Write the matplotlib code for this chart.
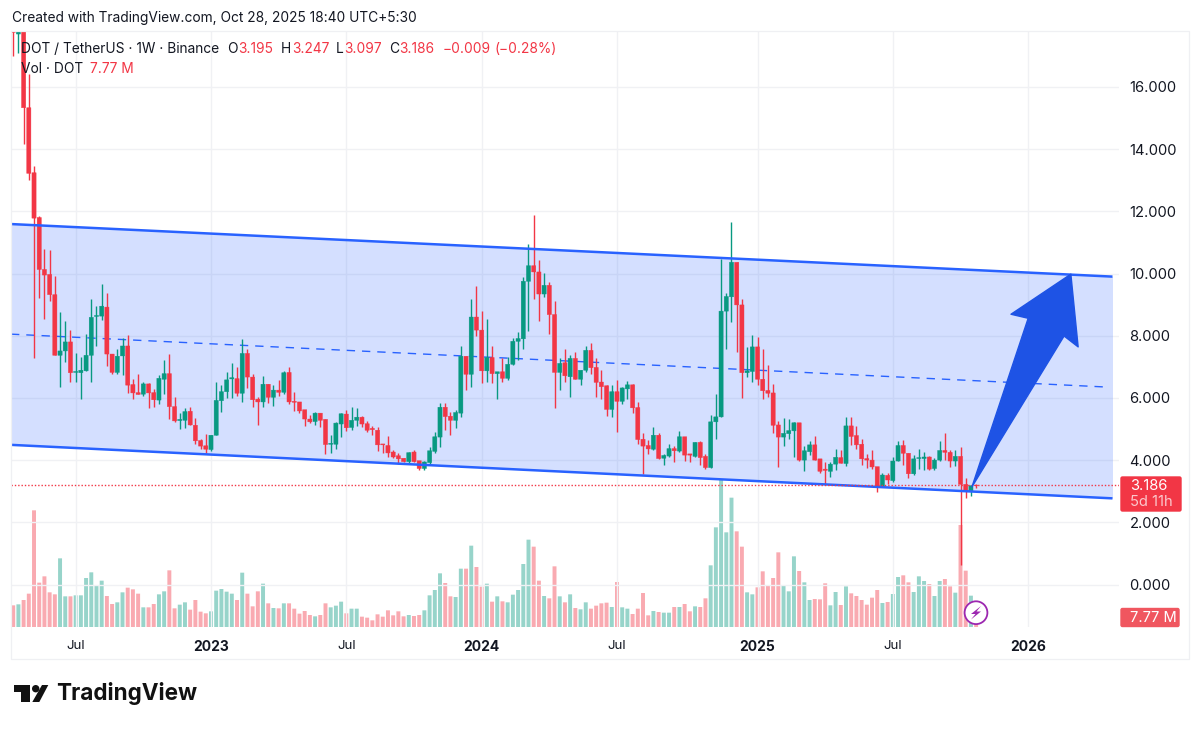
import matplotlib
matplotlib.use("Agg")
import matplotlib.pyplot as plt
from matplotlib.patches import Polygon, Circle, Rectangle, FancyBboxPatch

plt.rcParams['font.family'] = ['Inter', 'DejaVu Sans']

# ---------- data (weekly candles, DOT / USDT) ----------
opens = [18.2,17.7,18.2,15.33,13.24,11.8,10.13,9.97,9.32,7.37,
 7.51,7.80,6.82,6.81,6.87,7.37,8.62,8.63,8.92,7.41,
 6.82,7.35,7.67,6.43,6.17,6.12,6.45,6.17,5.93,6.6,
 6.78,5.72,5.27,5.28,5.57,5.12,4.63,4.46,4.34,4.8,
 5.91,6.2,6.61,6.62,6.15,7.43,6.67,5.96,5.87,6.44,
 6.02,6.25,6.18,6.82,5.89,5.87,5.62,5.32,5.24,5.51,
 5.31,4.51,4.51,5.16,5.48,5.05,5.28,5.38,5.17,5.02,
 4.96,4.52,4.47,4.26,4.14,4.06,3.95,4.26,3.98,3.73,
 3.92,4.28,4.74,5.7,5.41,5.28,5.51,7.34,6.76,8.6,
 8.18,6.87,7.3,6.78,6.84,6.63,7.08,7.82,7.9,9.75,
 10.25,10.05,9.34,9.62,8.68,6.82,7.13,6.68,7.27,6.6,
 6.89,7.53,6.98,6.51,6.39,5.63,6.2,5.89,6.29,6.42,
 5.69,4.67,4.47,4.35,4.8,4.06,4.13,4.37,4.29,4.75,
 4.2,4.12,4.57,4.12,3.76,5.23,5.39,8.79,9.25,10.36,
 8.99,6.81,6.85,7.64,6.6,6.24,6.16,5.13,4.74,4.85,
 4.94,5.2,4.0,4.27,4.49,4.04,3.71,3.64,3.87,4.08,
 3.89,5.1,4.79,4.51,4.05,4.0,3.79,3.15,3.51,3.34,
 3.97,4.47,4.22,3.56,4.05,4.05,4.1,3.73,4.0,4.31,
 4.25,3.97,4.12,3.22,3.01,3.195]
highs = [19,19,19,16.4,13.47,11.85,10.78,10.77,9.91,8.75,
 8.47,8.18,7.43,7.32,8.05,9.17,8.96,9.65,9.36,7.41,
 7.56,7.91,8.02,6.62,6.77,6.5,6.48,6.28,6.73,7.22,
 7.4,6.02,5.52,5.68,5.71,5.34,4.69,4.83,4.8,6.51,
 6.43,6.82,7.11,6.99,7.89,7.56,6.76,6.03,6.7,6.46,
 6.43,6.57,6.87,6.99,6.2,5.87,5.62,5.45,5.55,5.53,
 5.31,4.8,5.23,5.52,5.61,5.71,5.69,5.41,5.25,5.09,
 5.05,4.52,4.78,4.32,4.22,4.06,4.27,4.32,3.98,3.96,
 4.43,4.91,5.84,5.85,5.55,5.61,7.66,7.34,9.17,9.59,
 8.8,8.55,7.66,6.84,7.29,7.32,7.93,8.12,9.89,10.96,
 11.87,10.43,10.03,9.73,9.11,7.27,7.57,7.38,7.46,6.89,
 7.67,7.75,7.27,6.89,6.41,6.41,6.59,6.36,6.54,6.46,
 5.86,4.88,4.66,5.07,4.86,4.19,4.53,4.46,4.95,4.75,
 4.2,4.59,4.61,4.19,5.44,6.12,10.46,9.36,11.65,10.36,
 9.17,7.64,8.01,7.95,7.57,7.07,6.46,5.26,5.36,5.32,
 5.23,5.2,4.44,4.6,4.76,4.04,3.95,3.95,4.36,4.33,
 5.37,5.38,5.11,4.67,4.2,4.33,3.79,3.58,3.58,4.11,
 4.62,4.65,4.22,4.17,4.36,4.27,4.13,4.08,4.63,4.86,
 4.31,4.33,4.41,3.44,3.18,3.247]
lows = [17.0,17.1,14.16,13.0,7.29,9.2,8.55,9.12,7.37,6.36,
 7.14,6.52,6.52,5.98,6.85,6.5,7.67,8.52,7.02,6.76,
 6.76,6.73,6.16,5.96,6.11,6.07,5.66,5.71,5.79,6.14,
 5.31,5.23,4.99,5.02,5.12,4.53,4.37,4.23,4.3,4.8,
 5.55,6.0,6.0,6.07,5.87,6.33,5.71,5.14,5.71,5.82,
 5.73,6.06,6.14,5.8,5.58,5.52,5.1,5.2,5.12,5.07,
 4.19,4.24,4.35,4.73,4.94,4.96,5.09,5.07,4.89,4.82,
 4.3,4.23,4.1,4.07,3.86,3.95,3.92,3.95,3.68,3.68,
 3.89,4.24,4.43,4.96,4.8,5.02,5.39,6.27,6.36,8.0,
 6.48,6.5,6.48,5.96,6.52,6.57,7.05,7.21,7.56,8.15,
 9.17,8.47,9.25,8.05,5.68,6.25,6.5,6.03,6.6,6.41,
 6.84,6.78,6.03,5.98,5.42,5.39,4.91,5.8,5.96,5.52,
 4.53,3.55,4.2,4.32,4.03,3.84,4.1,3.95,4.27,3.97,
 3.95,4.1,3.85,3.7,3.73,4.67,5.39,7.56,8.45,7.48,
 6.0,6.67,6.5,6.41,5.98,6.03,4.86,3.78,4.45,4.69,
 4.1,3.98,3.64,4.17,4.0,3.6,3.23,3.47,3.68,3.9,
 3.81,4.49,4.36,3.85,3.74,3.71,2.99,3.12,3.22,3.29,
 3.97,3.85,3.42,3.52,3.71,3.69,3.69,3.69,3.97,4.0,
 3.77,3.81,0.63,2.77,2.83,3.097]
closes = [17.75,18.2,15.33,13.22,11.78,10.13,9.95,9.32,7.37,7.51,
 7.80,6.81,6.85,6.89,7.37,8.59,8.65,8.95,7.41,6.82,
 7.34,7.67,6.41,6.16,6.11,6.45,6.16,5.94,6.63,6.78,
 5.72,5.26,5.31,5.56,5.13,4.62,4.45,4.35,4.8,5.92,
 6.2,6.58,6.65,6.15,7.43,6.67,5.94,5.87,6.44,6.02,
 6.25,6.18,6.81,5.87,5.86,5.58,5.32,5.23,5.51,5.28,
 4.5,4.54,5.19,5.49,5.04,5.28,5.38,5.16,4.96,4.98,
 4.49,4.49,4.23,4.1,4.04,3.95,4.24,3.95,3.73,3.94,
 4.3,4.75,5.7,5.4,5.28,5.53,7.34,6.76,8.6,8.18,
 6.87,7.3,6.78,6.84,6.63,7.08,7.82,7.91,9.75,10.25,
 10.05,9.34,9.62,8.68,6.82,7.11,6.71,7.27,6.6,6.89,
 7.53,6.97,6.5,6.36,5.63,6.2,5.89,6.32,6.42,5.68,
 4.66,4.45,4.36,4.8,4.05,4.15,4.37,4.3,4.75,4.16,
 4.16,4.57,4.08,3.76,5.23,5.39,8.79,9.26,10.36,8.99,
 6.81,6.87,7.64,6.6,6.23,6.15,5.12,4.74,4.86,4.95,
 5.2,4.0,4.3,4.49,4.0,3.64,3.67,3.87,4.09,3.9,
 5.1,4.76,4.49,4.04,4.0,3.78,3.13,3.52,3.36,3.97,
 4.47,4.22,3.56,4.04,4.08,4.1,3.71,4.0,4.31,4.25,
 3.97,4.12,3.22,3.01,3.18,3.186]
# volume, in arbitrary chart units (about 0.276 M each)
volumes = [65,68,81,100,350,133,152,104,98,206,
 92,92,95,95,147,164,123,139,93,69,
 74,104,118,113,100,59,59,69,98,107,
 170,56,67,74,52,81,46,41,47,109,
 114,106,100,81,163,100,62,107,130,71,
 57,56,71,71,55,40,48,36,32,36,
 71,59,64,76,41,55,55,31,28,20,
 38,31,50,35,47,32,36,33,36,50,
 95,111,161,132,92,90,175,175,244,180,
 121,130,76,92,77,74,97,111,189,262,
 241,139,93,86,182,92,74,98,57,53,
 74,55,64,71,73,60,135,59,55,39,
 55,102,35,48,45,43,43,60,60,69,
 47,62,60,86,185,299,441,284,388,287,
 241,104,98,119,167,126,147,224,125,107,
 212,168,134,81,84,83,131,65,105,66,
 122,101,93,81,67,88,111,72,75,99,
 150,155,134,105,152,138,129,93,138,144,
 122,103,306,169,94,28]
time_ticks = [12, 38, 64, 90, 116, 143, 169, 195]
time_labels = ['Jul', '2023', 'Jul', '2024', 'Jul', '2025', 'Jul', '2026']
price_ticks = [0, 2, 4, 6, 8, 10, 12, 14, 16]
channel_x = [-0.42, 211.2]
channel_top = [11.59, 9.90]
channel_mid = [8.05, 6.34]
channel_bot = [4.49, 2.77]
arrow_x = [184.2, 195.0, 191.7, 203.2, 204.6, 201.9]
arrow_y = [3.14, 8.56, 8.69, 9.98, 7.64, 7.99]
last_close = 3.186
assert len(opens) == len(highs) == len(lows) == len(closes) == len(volumes) == 186

RED, GREEN, BLUE = '#f23645', '#089981', '#2962ff'
GRID = '#f0f1f4'
W, H = 1200, 729
fig = plt.figure(figsize=(12, 7.29), dpi=100, facecolor='white')

# pane: x 11..1119 px, y 31..627 px
L, R, T, B = 11, 1119, 31, 627
ax = fig.add_axes([L/W, 1-B/H, (R-L)/W, (B-T)/H])
px_per_week = 5.205
x0 = 13.2
ax.set_xlim((L-x0)/px_per_week, (R-x0)/px_per_week)
ax.set_ylim((584.5-B)/31.1, (584.5-T)/31.1)
ax.set_facecolor('none')
for s in ax.spines.values():
    s.set_visible(False)

xs = list(range(len(opens)))
up = [c >= o for o, c in zip(opens, closes)]

# volume
axv = ax.twinx()
axv.set_ylim(0, (B-T)*3)
axv.axis('off')
axv.set_zorder(ax.get_zorder()-1)
ax.patch.set_visible(False)
axv.bar(xs, volumes, width=0.76, color=[GREEN if u else RED for u in up],
        alpha=0.42, linewidth=0, zorder=2, snap=False)

ax.set_xticks(time_ticks)
ax.set_xticklabels(time_labels)
ax.yaxis.tick_right()
ax.set_yticks(price_ticks)
ax.set_yticklabels([f'{v:.3f}' for v in price_ticks])
ax.tick_params(axis='y', length=0, pad=7.6, labelsize=10.6, labelcolor='#131722')
ax.tick_params(axis='x', length=0, pad=9.5, labelsize=9.6, labelcolor='#131722')
for lab, txt in zip(ax.get_xticklabels(), time_labels):
    if txt != 'Jul':
        lab.set_fontweight('bold')
        lab.set_fontsize(10)
ax.grid(True, color=GRID, lw=1.0, zorder=0)
ax.set_axisbelow(True)

# channel
ax.fill_between(channel_x, channel_bot, channel_top, color=BLUE, alpha=0.2,
                linewidth=0, zorder=1)
ax.plot(channel_x, channel_top, color=BLUE, lw=1.8, zorder=6, solid_capstyle='butt')
ax.plot(channel_x, channel_bot, color=BLUE, lw=1.8, zorder=6, solid_capstyle='butt')
ax.plot([channel_x[0], channel_x[1]-1], channel_mid[:1] + [channel_mid[1]+0.008],
        color=BLUE, lw=1.0, ls=(0, (6, 5)), zorder=2)

# last price line
ax.axhline(last_close, color=RED, lw=1.0, ls=(0, (1, 1.4)), zorder=7)

# candles
cols = [GREEN if u else RED for u in up]
ax.vlines(xs, lows, highs, colors=cols, lw=1.0, zorder=4)
ax.bar(xs, [abs(c-o) for o, c in zip(opens, closes)],
       bottom=[min(o, c) for o, c in zip(opens, closes)], width=0.8,
       color=cols, linewidth=0.3, edgecolor=cols, zorder=5, snap=False)

# arrow
ax.add_patch(Polygon(list(zip(arrow_x, arrow_y)), closed=True, facecolor='#1e53e5',
                     edgecolor='#1e53e5', lw=1.0, joinstyle='round', zorder=8))

# pixel-space overlay
ov = fig.add_axes([0, 0, 1, 1], zorder=20)
ov.set_xlim(0, W); ov.set_ylim(H, 0); ov.axis('off'); ov.patch.set_visible(False)
FRAME = '#eff0f3'
ov.plot([11, 1188.5, 1188.5, 11, 11], [31, 31, 659, 659, 31], color=FRAME, lw=0.9)

DARK = '#131722'
FS = 9.9
ov.text(12, 18.3, 'Created with TradingView.com, Oct 28, 2025 18:40 UTC+5:30',
        fontsize=FS, color=DARK, va='center')
yl = 49.3
ov.text(21, yl, 'DOT / TetherUS · 1W · Binance', fontsize=FS, color=DARK, va='center')
for x, t, c in [(226.7, 'O', DARK), (237.7, '3.195', RED), (281, 'H', DARK), (291.7, '3.247', RED),
                (336, 'L', DARK), (344, '3.097', RED), (388.7, 'C', DARK), (399, '3.186', RED),
                (442.7, '−0.009', RED), (494, '(−0.28%)', RED)]:
    ov.text(x, yl, t, fontsize=FS, color=c, va='center')
ov.text(21, 69, 'Vol · DOT', fontsize=FS, color=DARK, va='center')
ov.text(90, 69, '7.77 M', fontsize=FS, color=RED, va='center')

# price labels
ov.add_patch(FancyBboxPatch((1121, 477), 60, 34, boxstyle='round,pad=0,rounding_size=1.5',
                            fc=RED, ec=RED, lw=1.0))
ov.text(1130.5, 486, '3.186', fontsize=10.6, color='white', va='center')
ov.text(1130.5, 501.5, '5d 11h', fontsize=10.6, color='#fbc8cc', va='center')
ov.add_patch(FancyBboxPatch((1121, 608.5), 58, 18, boxstyle='round,pad=0,rounding_size=1.5',
                            fc='#f0565f', ec='#f0565f', lw=1.0))
ov.text(1130.5, 617.5, '7.77 M', fontsize=10.6, color='white', va='center')

# lightning badge
ov.add_patch(Circle((976, 612.7), 11.4, fc='white', ec='#9c27b0', lw=1.3))
ov.add_patch(Polygon([(981, 606), (971, 614), (975.5, 614), (971, 619.5),
                      (981, 611.5), (976.5, 611.5)], closed=True, fc='#9c27b0', ec='none'))

# logo
ov.add_patch(Polygon([(14, 685), (30, 685), (30, 702), (21, 702), (21, 692), (14, 692)],
                     closed=True, fc='#111111', ec='none'))
ov.add_patch(Circle((35.7, 688.7), 3.7, fc='#111111', ec='none'))
ov.add_patch(Polygon([(42, 685), (48.3, 685), (39.3, 702), (32.3, 702)],
                     closed=True, fc='#111111', ec='none'))
ov.text(56.5, 693.5, 'TradingView', fontsize=16.2, fontweight='bold', color='#111111', va='center')

fig.savefig('out.png', dpi=100, facecolor='white')
